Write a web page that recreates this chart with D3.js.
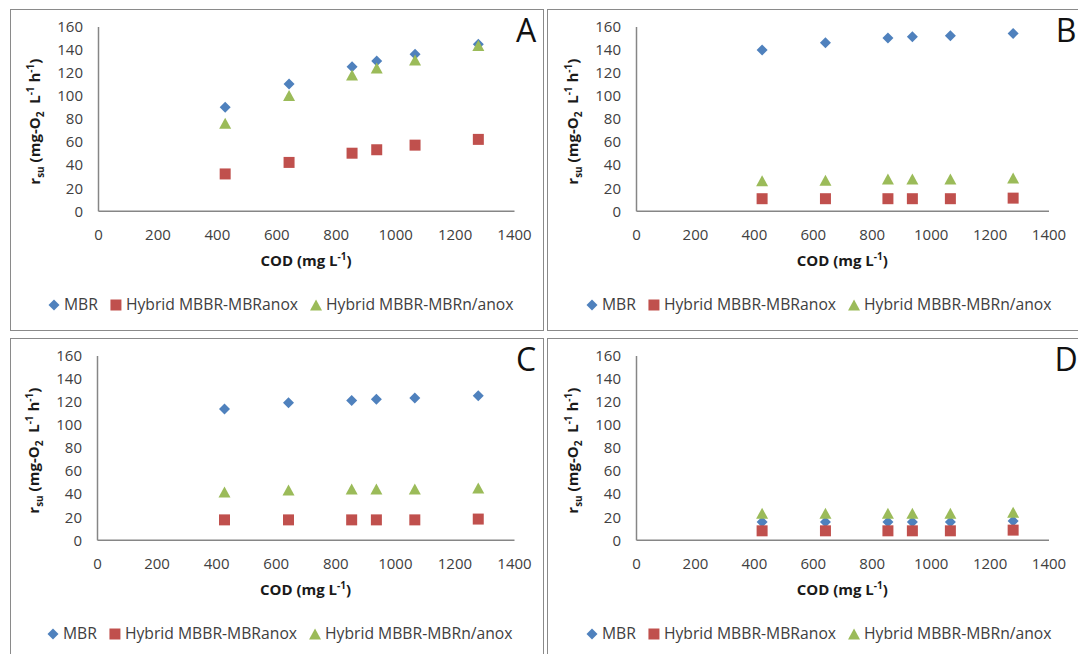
<!DOCTYPE html>
<html><head><meta charset="utf-8">
<script src="https://cdn.jsdelivr.net/npm/d3@7/dist/d3.min.js"></script>
<style>
html,body{margin:0;padding:0;background:#fff;}
svg{display:block;}
text{font-family:"Open Sans",sans-serif;}
</style></head>
<body>
<svg id="chart" width="1078" height="654"></svg>
<script>
// ---- data ----
const cod = [428, 643, 855, 938, 1067, 1280];
const seriesNames = ["MBR", "Hybrid MBBR-MBRanox", "Hybrid MBBR-MBRn/anox"];
const panelLabels = ["A", "B", "C", "D"];
const xTicks = [0, 200, 400, 600, 800, 1000, 1200, 1400];
const yTicks = [0, 20, 40, 60, 80, 100, 120, 140, 160];

const mbrA   = [90, 110, 125, 130, 136, 144.5];
const anoxA  = [32, 42, 50, 53, 57, 62];
const nanoxA = [76, 100, 118, 124, 131, 143.5];

const mbrB   = [139.5, 146, 150, 151, 152, 154];
const anoxB  = [10.5, 10.5, 10.5, 10.5, 10.5, 11];
const nanoxB = [26, 26.5, 27.5, 27.5, 27.5, 28.5];

const mbrC   = [113.5, 119, 121, 122, 123, 125];
const anoxC  = [17.3, 17.3, 17.3, 17.3, 17.3, 18];
const nanoxC = [41.5, 43.2, 44, 44, 44, 45];

const mbrD   = [15.5, 15.5, 15.5, 15.5, 15.5, 16.3];
const anoxD  = [7.8, 7.8, 7.8, 7.8, 7.8, 8.4];
const nanoxD = [23, 23, 23, 23, 23, 24];

const panelData = [
  [mbrA, anoxA, nanoxA],
  [mbrB, anoxB, nanoxB],
  [mbrC, anoxC, nanoxC],
  [mbrD, anoxD, nanoxD]
];

// ---- layout ----
const panels = [
  {x: 10,  y: 9,   w: 533, h: 321, px0: 88, px1: 504, letterX: 516},
  {x: 547, y: 9,   w: 540, h: 321, px0: 89, px1: 501.5, letterX: 519},
  {x: 10,  y: 338, w: 533, h: 330, px0: 87, px1: 504, letterX: 516},
  {x: 547, y: 338, w: 540, h: 330, px0: 89, px1: 501.5, letterX: 519}
];
const plotTop = 17.5, plotBottom = 201.8;
const colors = ["#4F81BD", "#C0504D", "#9BBB59"];
const axisColor = "#868686";
const tickColor = "#404040";

const svg = d3.select("#chart");

function markerPath(type, cx, cy) {
  if (type === 0) { // diamond
    const a = 5.5;
    return `M${cx},${cy-a}L${cx+a},${cy}L${cx},${cy+a}L${cx-a},${cy}Z`;
  } else if (type === 1) { // square
    const s = 5.5;
    return `M${cx-s},${cy-s}H${cx+s}V${cy+s}H${cx-s}Z`;
  } else { // triangle
    const w = 6, h = 5.5;
    return `M${cx},${cy-h}L${cx+w},${cy+h}L${cx-w},${cy+h}Z`;
  }
}

panels.forEach((p, i) => {
  const g = svg.append("g").attr("transform", `translate(${p.x},${p.y})`);
  // border
  g.append("rect").attr("x", 0.5).attr("y", 0.5).attr("width", p.w).attr("height", p.h)
    .attr("fill", "#fff").attr("stroke", "#8a8a8a").attr("stroke-width", 1);

  const x = d3.scaleLinear().domain([0, 1400]).range([p.px0, p.px1]);
  const y = d3.scaleLinear().domain([0, 160]).range([plotBottom, plotTop]);

  // axes
  const xAxis = d3.axisBottom(x).tickValues(xTicks).tickSize(0).tickPadding(0).tickFormat(d3.format("d"));
  const gx = g.append("g").attr("transform", `translate(0,${plotBottom})`).call(xAxis);
  gx.select(".domain").attr("stroke", axisColor).attr("stroke-width", 1.5);
  gx.selectAll("text").attr("fill", tickColor).attr("font-size", 15)
    .attr("y", 24).attr("dy", "0.35em");

  const yAxis = d3.axisLeft(y).tickValues(yTicks).tickSize(0).tickPadding(0).tickFormat(d3.format("d"));
  const gy = g.append("g").attr("transform", `translate(${p.px0},0)`).call(yAxis);
  gy.select(".domain").attr("stroke", axisColor).attr("stroke-width", 1.5);
  gy.selectAll("text").attr("fill", tickColor).attr("font-size", 15)
    .attr("x", -15).attr("dy", "0.35em");

  // axis titles
  const xt = g.append("text").attr("x", (p.px0 + p.px1) / 2).attr("y", plotBottom + 55)
    .attr("text-anchor", "middle").attr("font-weight", "bold").attr("font-size", 15).attr("fill", "#1a1a1a");
  xt.append("tspan").text("COD (mg L");
  xt.append("tspan").attr("dy", -6).attr("font-size", 10).text("-1");
  xt.append("tspan").attr("dy", 6).text(")");

  const cyT = (plotTop + plotBottom) / 2 + 3;
  const yt = g.append("text").attr("transform", `translate(${p.px0 - 58},${cyT}) rotate(-90)`)
    .attr("text-anchor", "middle").attr("font-weight", "bold").attr("font-size", 15).attr("fill", "#1a1a1a");
  yt.append("tspan").text("r");
  yt.append("tspan").attr("dy", 4).attr("font-size", 10).text("su");
  yt.append("tspan").attr("dy", -4).text(" (mg-O");
  yt.append("tspan").attr("dy", 4).attr("font-size", 10).text("2");
  yt.append("tspan").attr("dy", -4).text("\u00A0 L");
  yt.append("tspan").attr("dy", -6).attr("font-size", 10).text("-1");
  yt.append("tspan").attr("dy", 6).text(" h");
  yt.append("tspan").attr("dy", -6).attr("font-size", 10).text("-1");
  yt.append("tspan").attr("dy", 6).text(")");

  // markers
  panelData[i].forEach((vals, s) => {
    g.append("g").selectAll("path").data(vals).join("path")
      .attr("d", (v, k) => markerPath(s, x(cod[k]), y(v)))
      .attr("fill", colors[s]);
  });

  // panel letter
  g.append("text").attr("x", p.letterX).attr("y", 33).attr("text-anchor", "middle")
    .attr("font-size", 32).attr("fill", "#111").text(panelLabels[i]);

  // legend
  const ly = 296;
  let lx = p.px0 - 44;
  seriesNames.forEach((name, s) => {
    g.append("path").attr("d", markerPath(s, lx, ly)).attr("fill", colors[s]);
    const t = g.append("text").attr("x", lx + 10).attr("y", ly).attr("dy", "0.35em")
      .attr("font-size", 15.7).attr("fill", tickColor).text(name);
    lx = lx + 10 + t.node().getComputedTextLength() + 18;
  });
});
</script>
</body></html>
